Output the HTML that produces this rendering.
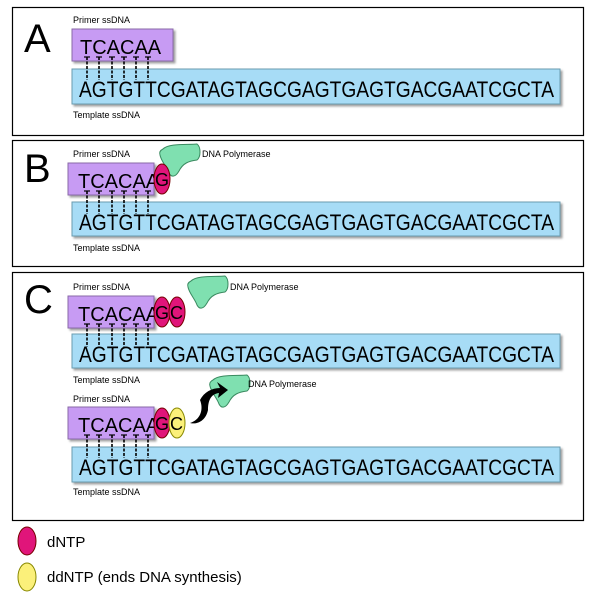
<!DOCTYPE html>
<html><head><style>body{margin:0;background:#fff}svg{display:block}</style></head><body>
<svg width="600" height="600" viewBox="0 0 600 600" font-family="Liberation Sans, Arial, sans-serif">
<defs>
<filter id="sh" x="-5%" y="-5%" width="110%" height="130%"><feDropShadow dx="2" dy="2" stdDeviation="1" flood-color="#777" flood-opacity="0.7"/></filter>
<g id="bonds">
<g stroke="#000" stroke-width="1.6" stroke-dasharray="3,1.5">
<line x1="87" y1="0" x2="87" y2="23"/><line x1="99" y1="0" x2="99" y2="23"/><line x1="112" y1="0" x2="112" y2="23"/><line x1="124" y1="0" x2="124" y2="23"/><line x1="136" y1="0" x2="136" y2="23"/><line x1="148" y1="0" x2="148" y2="23"/>
</g>
<g stroke="#000" stroke-width="1.2">
<line x1="84" y1="0" x2="90" y2="0"/><line x1="96" y1="0" x2="102" y2="0"/><line x1="109" y1="0" x2="115" y2="0"/><line x1="121" y1="0" x2="127" y2="0"/><line x1="133" y1="0" x2="139" y2="0"/><line x1="145" y1="0" x2="151" y2="0"/>
</g>
</g>
<path id="pol" d="M6,6 C12,0 30,2 40,1 C44,4 44,14 40,17 C32,18 26,20 22,28 C18,35 14,34 12,30 C10,24 4,18 3,12 C2,9 4,7 6,6Z"/>
</defs>
<g fill="none" stroke="#000" stroke-width="1.2">
<rect x="12.5" y="7.5" width="571" height="128"/>
<rect x="12.5" y="140.5" width="571" height="126"/>
<rect x="12.5" y="272.5" width="571" height="248"/>
</g>
<g font-size="40"><text x="24" y="52">A</text><text x="24" y="182">B</text><text x="24" y="313">C</text></g>

<!-- A -->
<text x="73" y="23" font-size="9">Primer ssDNA</text>
<rect x="72" y="29" width="101" height="32" fill="#c79bf3" stroke="#8a6aa8" filter="url(#sh)"/>
<text x="80" y="54" font-size="20">TCACAA</text>
<rect x="72" y="69" width="488" height="35" fill="#a7dcf6" stroke="#6a9cb0" filter="url(#sh)"/>
<text x="79" y="97" font-size="22" textLength="475" lengthAdjust="spacingAndGlyphs">AGTGTTCGATAGTAGCGAGTGAGTGACGAATCGCTA</text>
<g transform="translate(0,57)"><use href="#bonds"/></g>
<text x="73" y="118" font-size="9">Template ssDNA</text>

<!-- B -->
<text x="73" y="157" font-size="9">Primer ssDNA</text>
<rect x="68" y="163" width="86" height="32" fill="#c79bf3" stroke="#8a6aa8" filter="url(#sh)"/>
<text x="78" y="188" font-size="20">TCACAA</text>
<use href="#pol" transform="translate(157,143)" fill="#7fe0b0" stroke="#3a8a60"/>
<ellipse cx="162" cy="179" rx="8" ry="15" fill="#e0157a" stroke="#700"/>
<text x="155" y="186" font-size="18">G</text>
<text x="202" y="157" font-size="9">DNA Polymerase</text>
<rect x="72" y="202" width="488" height="34" fill="#a7dcf6" stroke="#6a9cb0" filter="url(#sh)"/>
<text x="79" y="230" font-size="22" textLength="475" lengthAdjust="spacingAndGlyphs">AGTGTTCGATAGTAGCGAGTGAGTGACGAATCGCTA</text>
<g transform="translate(0,191)"><use href="#bonds"/></g>
<text x="73" y="251" font-size="9">Template ssDNA</text>

<!-- C1 -->
<text x="73" y="290" font-size="9">Primer ssDNA</text>
<rect x="68" y="296" width="86" height="32" fill="#c79bf3" stroke="#8a6aa8" filter="url(#sh)"/>
<text x="78" y="321" font-size="20">TCACAA</text>
<use href="#pol" transform="translate(185,275)" fill="#7fe0b0" stroke="#3a8a60"/>
<ellipse cx="162" cy="312" rx="8" ry="15" fill="#e0157a" stroke="#700"/>
<ellipse cx="177" cy="312" rx="8" ry="15" fill="#e0157a" stroke="#700"/>
<text x="155" y="319" font-size="18">G</text><text x="170" y="319" font-size="18">C</text>
<text x="230" y="290" font-size="9">DNA Polymerase</text>
<rect x="72" y="334" width="488" height="34" fill="#a7dcf6" stroke="#6a9cb0" filter="url(#sh)"/>
<text x="79" y="362" font-size="22" textLength="475" lengthAdjust="spacingAndGlyphs">AGTGTTCGATAGTAGCGAGTGAGTGACGAATCGCTA</text>
<g transform="translate(0,324)"><use href="#bonds"/></g>
<text x="73" y="383" font-size="9">Template ssDNA</text>

<!-- C2 -->
<text x="73" y="402" font-size="9">Primer ssDNA</text>
<rect x="68" y="407" width="86" height="32" fill="#c79bf3" stroke="#8a6aa8" filter="url(#sh)"/>
<text x="78" y="432" font-size="20">TCACAA</text>
<use href="#pol" transform="translate(207,374)" fill="#7fe0b0" stroke="#3a8a60"/>
<path d="M190,423 C200,420 204,410 200,400 C204,392 212,388 220,388 L217,382 L228,390 L218,398 L219,393 C210,394 208,402 208,410 C206,420 198,425 190,423 Z" fill="#000"/>
<ellipse cx="162" cy="423" rx="8" ry="15" fill="#e0157a" stroke="#700"/>
<ellipse cx="177" cy="423" rx="8" ry="15" fill="#fbf07a" stroke="#880"/>
<text x="155" y="430" font-size="18">G</text><text x="170" y="430" font-size="18">C</text>
<text x="248" y="387" font-size="9">DNA Polymerase</text>
<rect x="72" y="447" width="488" height="35" fill="#a7dcf6" stroke="#6a9cb0" filter="url(#sh)"/>
<text x="79" y="475" font-size="22" textLength="475" lengthAdjust="spacingAndGlyphs">AGTGTTCGATAGTAGCGAGTGAGTGACGAATCGCTA</text>
<g transform="translate(0,435)"><use href="#bonds"/></g>
<text x="73" y="495" font-size="9">Template ssDNA</text>

<!-- legend -->
<ellipse cx="27" cy="541" rx="9" ry="14" fill="#e0157a" stroke="#700"/>
<text x="47" y="547" font-size="15">dNTP</text>
<ellipse cx="27" cy="577" rx="9" ry="14" fill="#fbf07a" stroke="#880"/>
<text x="47" y="582" font-size="15">ddNTP (ends DNA synthesis)</text>
</svg>
</body></html>
